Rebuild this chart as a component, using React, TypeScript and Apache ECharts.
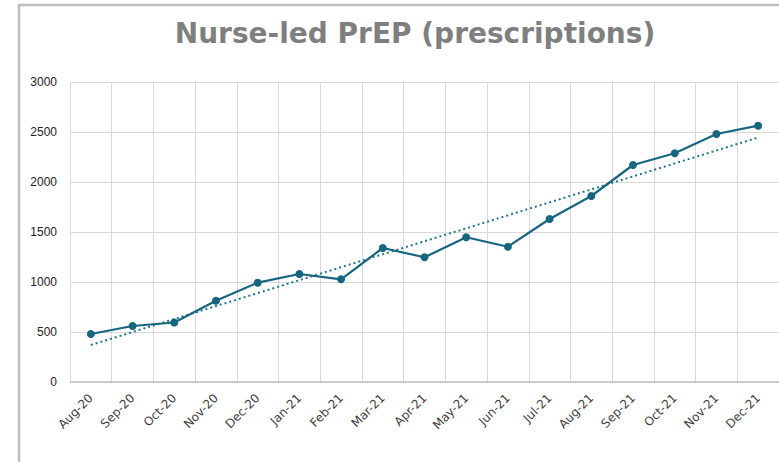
import React, { useEffect, useRef } from "react";
import * as echarts from "echarts";

const categories = [
  "Aug-20", "Sep-20", "Oct-20", "Nov-20", "Dec-20", "Jan-21", "Feb-21", "Mar-21", "Apr-21",
  "May-21", "Jun-21", "Jul-21", "Aug-21", "Sep-21", "Oct-21", "Nov-21", "Dec-21",
];
const prescriptions = [480, 560, 595, 813, 993, 1080, 1027, 1340, 1247, 1447, 1353, 1630, 1860, 2170, 2287, 2480, 2563];
const trendStart = 370;
const trendEnd = 2445;
const trend = categories.map((_, i) => (i === 0 ? trendStart : i === categories.length - 1 ? trendEnd : null));
const titleText = "Nurse-led PrEP (prescriptions)";

const LINE = "#17657f";

export default function App() {
  const ref = useRef<HTMLDivElement>(null);
  useEffect(() => {
    if (!ref.current) return;
    const chart = echarts.init(ref.current, null, { renderer: "svg" });
    chart.setOption({
      animation: false,
      backgroundColor: "#ffffff",
      graphic: [
        {
          type: "rect",
          shape: { x: 19, y: 5, width: 820, height: 520 },
          style: { fill: "none", stroke: "#bdbdbd", lineWidth: 2.5 },
          silent: true,
        },
        {
          type: "text",
          x: 415,
          y: 47,
          style: {
            text: titleText,
            align: "center",
            verticalAlign: "bottom",
            fill: "#7f7f7f",
            font: "bold 28px 'DejaVu Sans', sans-serif",
          },
        },
      ],
      grid: { left: 70, top: 82, width: 724, bottom: 80, containLabel: false },
      xAxis: {
        type: "category",
        data: categories,
        boundaryGap: true,
        axisLine: { show: true, lineStyle: { color: "#bfbfbf", width: 1.5 } },
        axisTick: { show: false },
        splitLine: { show: true, lineStyle: { color: "#d9d9d9", width: 1 } },
        axisLabel: {
          rotate: 45,
          interval: 0,
          margin: 14,
          color: "#404040",
          fontSize: 12,
          fontFamily: "DejaVu Sans",
        },
      },
      yAxis: {
        type: "value",
        min: 0,
        max: 3000,
        interval: 500,
        axisLine: { show: false },
        axisTick: { show: false },
        splitLine: { show: true, lineStyle: { color: "#d9d9d9", width: 1 } },
        axisLabel: {
          margin: 13,
          color: "#222222",
          fontSize: 12,
          fontFamily: "Liberation Sans, Arial, sans-serif",
          formatter: (v: number) => String(v),
        },
      },
      series: [
        {
          name: "Prescriptions",
          type: "line",
          data: prescriptions,
          symbol: "circle",
          symbolSize: 8,
          itemStyle: { color: LINE },
          lineStyle: { color: LINE, width: 2.2 },
          z: 3,
        },
        {
          name: "Trend",
          type: "line",
          data: trend,
          connectNulls: true,
          symbol: "none",
          lineStyle: { color: "#1f7590", width: 2, type: [2, 3] },
          z: 2,
        },
      ],
    });
    return () => chart.dispose();
  }, []);
  return (
    <div
      ref={ref}
      style={{ position: "fixed", left: 0, top: 0, width: 779, height: 462 }}
    />
  );
}
